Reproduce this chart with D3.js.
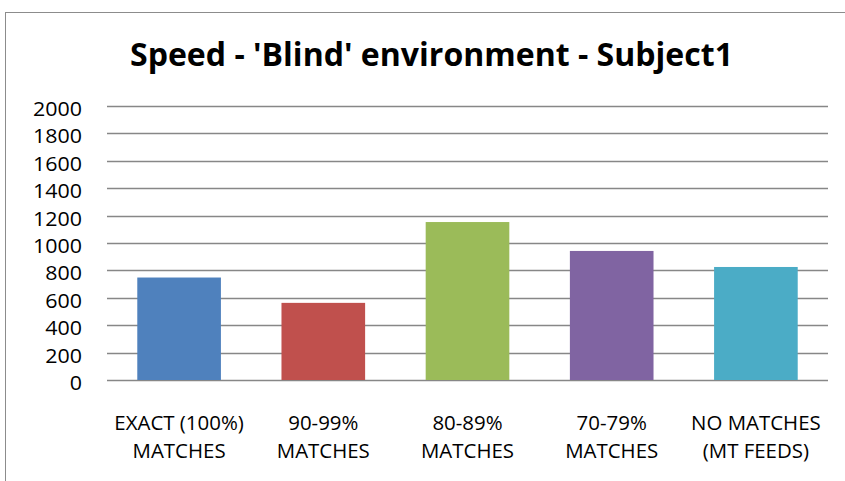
<!DOCTYPE html>
<html><head><meta charset="utf-8">
<script src="https://cdn.jsdelivr.net/npm/d3@7"></script>
<style>body{margin:0;background:#fff}</style>
</head><body>
<script>
const categories = [["EXACT (100%)","MATCHES"],["90-99%","MATCHES"],["80-89%","MATCHES"],["70-79%","MATCHES"],["NO MATCHES","(MT FEEDS)"]];
const values = [748, 563, 1153, 942, 825];
const colors = ["#4F81BD","#C0504D","#9BBB59","#8064A2","#4BACC6"];
const yTicks = [0,200,400,600,800,1000,1200,1400,1600,1800,2000];
const title = "Speed - 'Blind' environment - Subject1";

const W=845,H=481;
const svg=d3.select("body").append("svg").attr("width",W).attr("height",H);
const font="'Open Sans', sans-serif";
svg.append("rect").attr("x",5.5).attr("y",12.5).attr("width",W+10).attr("height",H+10)
  .attr("fill","#fff").attr("stroke","#8c8c8c").attr("stroke-width",1);

const x=d3.scaleBand().domain(d3.range(categories.length)).range([107,828]).paddingInner(0.42).paddingOuter(0.21);
const y=d3.scaleLinear().domain([0,2000]).range([380,106]);

svg.append("g").selectAll("line").data(yTicks).join("line")
  .attr("x1",107).attr("x2",828).attr("y1",d=>Math.round(y(d))+0.5).attr("y2",d=>Math.round(y(d))+0.5)
  .attr("stroke","#878787").attr("stroke-width",1.5);

svg.append("g").selectAll("rect").data(values).join("rect")
  .attr("x",(d,i)=>x(i)).attr("width",x.bandwidth())
  .attr("y",d=>y(d)).attr("height",d=>y(0)-y(d)).attr("fill",(d,i)=>colors[i]);

// helper to measure natural width
function natW(str,size,weight){
  const t=svg.append("text").attr("font-family",font).attr("font-size",size).attr("font-weight",weight||"normal").text(str);
  const w=t.node().getComputedTextLength(); t.remove(); return w;
}
const kTick=49/natW("2000",19.5);
const kCat=93/natW("MATCHES",20);

svg.append("g").selectAll("text").data(yTicks).join("text")
  .attr("x",82).attr("y",d=>y(d)+10).attr("text-anchor","end")
  .attr("font-family",font).attr("font-size",19.5).attr("fill","#000")
  .text(d=>d)
  .each(function(d){const n=this.getComputedTextLength();d3.select(this).attr("textLength",n*kTick).attr("lengthAdjust","spacingAndGlyphs");});

const step=(828-107)/categories.length;
const cg=svg.append("g");
categories.forEach((d,i)=>{
  const cx=107+step*(i+0.5);
  d.forEach((s,j)=>{
    const t=cg.append("text").attr("x",cx).attr("y",429.5+j*28).attr("text-anchor","middle")
      .attr("font-family",font).attr("font-size",20).attr("fill","#000").text(s);
    const n=t.node().getComputedTextLength();
    t.attr("textLength",n*kCat).attr("lengthAdjust","spacingAndGlyphs");
  });
});

svg.append("text").attr("x",431.5).attr("y",66).attr("text-anchor","middle")
  .attr("font-family",font).attr("font-weight","bold").attr("font-size",32)
  .attr("textLength",603).attr("lengthAdjust","spacingAndGlyphs").text(title);
</script>
</body></html>
